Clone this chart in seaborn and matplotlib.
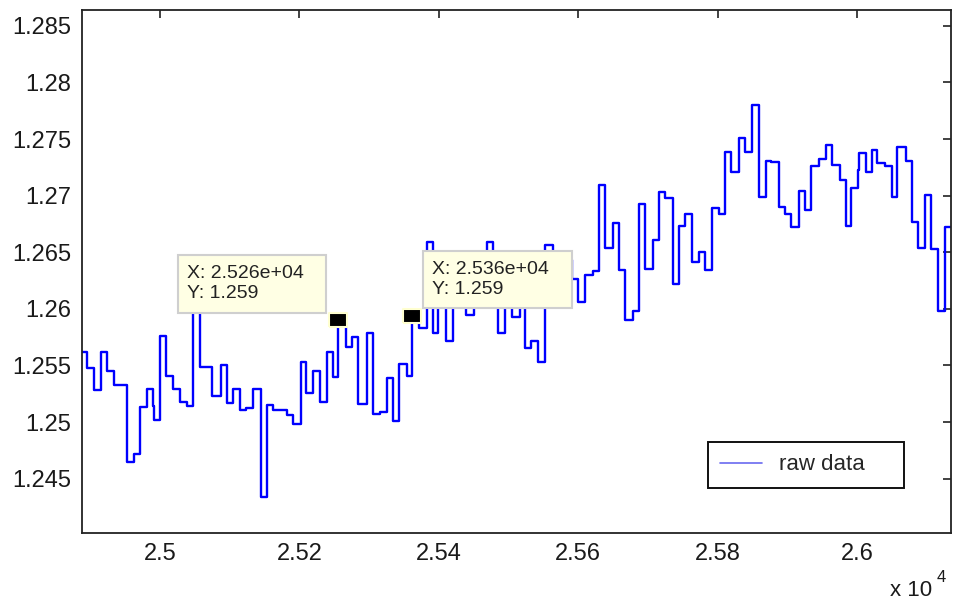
import matplotlib
matplotlib.use("Agg")
import matplotlib.pyplot as plt
import seaborn as sns
import pandas as pd
from matplotlib.lines import Line2D
from matplotlib.patches import Rectangle

# ---- data ----
x_vals = [24885, 24895, 24905, 24915, 24924, 24934, 24952, 24963, 24971, 24981,
          24990, 24992, 25000, 25009, 25018, 25029, 25038, 25047, 25057, 25075,
          25087, 25096, 25104, 25115, 25123, 25133, 25145, 25154, 25162, 25182,
          25191, 25202, 25210, 25220, 25230, 25239, 25248, 25256, 25267, 25275,
          25284, 25297, 25305, 25315, 25325, 25334, 25343, 25354, 25361, 25372,
          25383, 25392, 25399, 25410, 25420, 25430, 25439, 25450, 25459, 25469,
          25478, 25485, 25495, 25505, 25516, 25524, 25533, 25543, 25552, 25564,
          25574, 25581, 25591, 25600, 25610, 25621, 25630, 25638, 25650, 25659,
          25667, 25678, 25687, 25696, 25708, 25716, 25725, 25736, 25745, 25753,
          25763, 25774, 25782, 25792, 25802, 25811, 25820, 25831, 25839, 25849,
          25860, 25869, 25876, 25888, 25897, 25905, 25917, 25925, 25934, 25946,
          25955, 25964, 25975, 25984, 25992, 26001, 26003, 26013, 26021, 26029,
          26040, 26050, 26058, 26070, 26079, 26087, 26098, 26107, 26116, 26126,
          26148]
y_vals = [1.2562, 1.2548, 1.2528, 1.2562, 1.2545, 1.2533, 1.2465, 1.2472, 1.2513, 1.2529,
          1.2514, 1.2502, 1.2576, 1.2541, 1.2529, 1.2518, 1.2514, 1.2610, 1.2549, 1.2523,
          1.2550, 1.2517, 1.2529, 1.2511, 1.2512, 1.2529, 1.2434, 1.2515, 1.2511, 1.2506,
          1.2498, 1.2553, 1.2526, 1.2545, 1.2518, 1.2562, 1.2540, 1.2590, 1.2566, 1.2575,
          1.2516, 1.2579, 1.2507, 1.2509, 1.2539, 1.2501, 1.2551, 1.2541, 1.2594, 1.2583,
          1.2659, 1.2579, 1.2610, 1.2572, 1.2620, 1.2630, 1.2595, 1.2640, 1.2605, 1.2659,
          1.2625, 1.2579, 1.2625, 1.2593, 1.2620, 1.2565, 1.2572, 1.2553, 1.2656, 1.2650,
          1.2640, 1.2643, 1.2626, 1.2606, 1.2630, 1.2633, 1.2709, 1.2654, 1.2676, 1.2634,
          1.2590, 1.2598, 1.2693, 1.2635, 1.2661, 1.2703, 1.2698, 1.2622, 1.2673, 1.2684,
          1.2641, 1.2650, 1.2634, 1.2689, 1.2684, 1.2739, 1.2721, 1.2751, 1.2739, 1.2780,
          1.2699, 1.2731, 1.2730, 1.2690, 1.2684, 1.2672, 1.2704, 1.2687, 1.2726, 1.2732,
          1.2745, 1.2727, 1.2714, 1.2673, 1.2707, 1.2723, 1.2738, 1.2721, 1.2740, 1.2729,
          1.2726, 1.2699, 1.2743, 1.2731, 1.2677, 1.2654, 1.2701, 1.2653, 1.2598, 1.2672,
          1.2672]

tip_x = [25256, 25361]
tip_y = [1.2590, 1.2594]
tip_text_x = ["X: 2.526e+04", "X: 2.536e+04"]
tip_text_y = ["Y: 1.259", "Y: 1.259"]

x_ticks = [25000, 25200, 25400, 25600, 25800, 26000]
x_tick_labels = ["2.5", "2.52", "2.54", "2.56", "2.58", "2.6"]
y_ticks = [1.245, 1.25, 1.255, 1.26, 1.265, 1.27, 1.275, 1.28, 1.285]
y_tick_labels = ["1.245", "1.25", "1.255", "1.26", "1.265", "1.27", "1.275", "1.28", "1.285"]
series_label = "raw data"

# ---- style ----
sns.set_style("white")
plt.rcParams["font.family"] = ["Liberation Sans", "DejaVu Sans"]

W, H = 958, 600
fig = plt.figure(figsize=(W / 100, H / 100), dpi=100)
L, R, T, B = 82, 951, 10, 533
ax = fig.add_axes([L / W, 1 - B / H, (R - L) / W, (B - T) / H])

df = pd.DataFrame({"x": x_vals, "y": y_vals})
sns.lineplot(data=df, x="x", y="y", drawstyle="steps-post", estimator=None,
             sort=False, color="#0000ff", linewidth=1.7, ax=ax, legend=False)

ax.set_xlim(24888, 26135)
ax.set_ylim(1.2402, 1.2864)
ax.set_xticks(x_ticks)
ax.set_xticklabels(x_tick_labels)
ax.set_yticks(y_ticks)
ax.set_yticklabels(y_tick_labels)
ax.set_xlabel("")
ax.set_ylabel("")
ax.tick_params(direction="in", length=6, width=1.2, color="#222222",
               top=True, right=True, labelsize=17, labelcolor="#1a1a1a")
ax.tick_params(axis="x", pad=7)
ax.tick_params(axis="y", pad=8)
for s in ax.spines.values():
    s.set_visible(True)
    s.set_color("#222222")
    s.set_linewidth(1.3)

# ---- data tips ----
marker_verts = [(-1, -0.75), (1, -0.75), (1, 0.75), (-1, 0.75), (-1, -0.75)]
ax.plot(tip_x, tip_y, linestyle="none", marker=marker_verts, markersize=13,
        markerfacecolor="black", markeredgecolor="#ffffd0", markeredgewidth=1.5,
        zorder=6)

boxes = [(178, 255, 326, 313), (423, 251, 572, 308)]
for i, (x0, y0, x1, y1) in enumerate(boxes):
    fx0 = (x0 - L) / (R - L)
    fx1 = (x1 - L) / (R - L)
    fy0 = 1 - (y1 - T) / (B - T)
    fy1 = 1 - (y0 - T) / (B - T)
    ax.add_patch(Rectangle((fx0, fy0), fx1 - fx0, fy1 - fy0, transform=ax.transAxes,
                           facecolor="#ffffe4", edgecolor="#cfcfcf", linewidth=1.5,
                           zorder=7, clip_on=False))
    tx = (x0 + 9 - L) / (R - L)
    ty1 = 1 - ((y0 + 19) - T) / (B - T)
    ty2 = 1 - ((y0 + 39) - T) / (B - T)
    ax.text(tx, ty1, tip_text_x[i], transform=ax.transAxes, fontsize=14,
            color="#222222", va="center", ha="left", zorder=8)
    ax.text(tx, ty2, tip_text_y[i], transform=ax.transAxes, fontsize=14,
            color="#222222", va="center", ha="left", zorder=8)

# ---- legend ----
handle = Line2D([], [], color="#6a6af0", linewidth=1.2)
leg = ax.legend([handle], [series_label], loc="center left",
                bbox_to_anchor=((708 - L) / (R - L), 1 - (465 - T) / (B - T),
                                (904 - 708) / (R - L), 0),
                mode="expand", fontsize=16, frameon=True, fancybox=False,
                borderpad=0.55, handlelength=1.9, handletextpad=0.75,
                borderaxespad=0)
leg.get_frame().set_edgecolor("#111111")
leg.get_frame().set_linewidth(1.4)
leg.get_frame().set_facecolor("white")
leg.get_frame().set_alpha(1)

# ---- exponent label ----
fig.text(890 / W, 1 - 591 / H, "x 10", fontsize=16, color="#1a1a1a",
         ha="left", va="center")
fig.text(937 / W, 1 - 577 / H, "4", fontsize=12, color="#1a1a1a",
         ha="left", va="center")

fig.savefig("out.png", dpi=100, facecolor="white")
